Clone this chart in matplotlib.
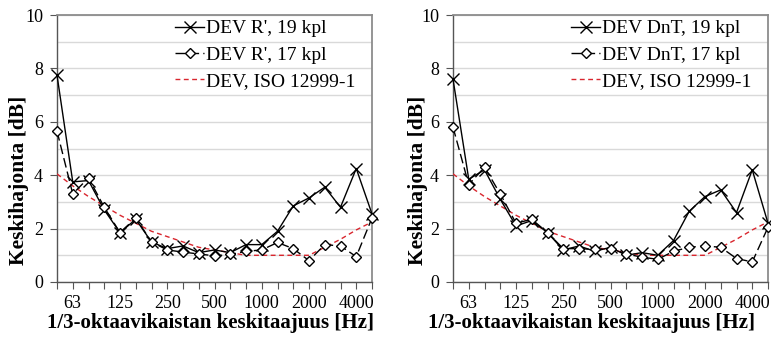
import matplotlib
matplotlib.use('Agg')
import matplotlib.pyplot as plt
import numpy as np

plt.rcParams['font.family'] = ['Liberation Serif', 'DejaVu Serif']

# 1/3-octave bands 50...5000 Hz
bands = [50, 63, 80, 100, 125, 160, 200, 250, 315, 400, 500, 630, 800,
         1000, 1250, 1600, 2000, 2500, 3150, 4000, 5000]
tick_labels = ['63', '125', '250', '500', '1000', '2000', '4000']

# left panel, R'
r_19 = [7.75, 3.75, 3.8, 2.7, 1.85, 2.35, 1.5, 1.25, 1.35, 1.1, 1.2, 1.1, 1.4,
        1.4, 1.9, 2.85, 3.15, 3.55, 2.8, 4.25, 2.55]
r_17 = [5.65, 3.3, 3.9, 2.8, 1.85, 2.4, 1.5, 1.2, 1.12, 1.05, 0.98, 1.03, 1.15,
        1.2, 1.48, 1.25, 0.8, 1.4, 1.35, 0.95, 2.4]

# right panel, DnT
d_19 = [7.6, 3.85, 4.2, 3.1, 2.1, 2.3, 1.85, 1.2, 1.35, 1.15, 1.3, 1.0, 1.1,
        1.0, 1.55, 2.65, 3.2, 3.45, 2.6, 4.2, 2.2]
d_17 = [5.8, 3.65, 4.3, 3.3, 2.2, 2.35, 1.85, 1.25, 1.25, 1.22, 1.25, 1.05, 0.93,
        0.85, 1.15, 1.3, 1.35, 1.3, 0.88, 0.75, 2.05]

# ISO 12999-1 reference
iso = [4.05, 3.6, 3.2, 2.85, 2.5, 2.2, 1.9, 1.7, 1.5, 1.3, 1.2, 1.1, 1.0,
       1.0, 1.0, 1.0, 1.0, 1.3, 1.6, 1.95, 2.25]

# data, legend names, ylabel x, xlabel x (axes fractions)
panels = [
    (r_19, r_17, "DEV R', 19 kpl", "DEV R', 17 kpl", -0.09, 0.486),
    (d_19, d_17, "DEV DnT, 19 kpl", "DEV DnT, 17 kpl", -0.078, 0.44),
]

fig = plt.figure(figsize=(7.71, 3.40), dpi=100)
ax_lefts = [57/771, 453/771]
x = np.arange(len(bands))

for (s19, s17, lab19, lab17, ylab_x, xlab_x), x0 in zip(panels, ax_lefts):
    ax = fig.add_axes([x0, 1 - 282/340, 315/771, 267/340])
    ax.plot(x, s19, color='black', lw=1.0, marker='x', ms=9, mew=1.0,
            label=lab19, clip_on=False, zorder=4)
    ax.plot(x, s17, color='black', lw=1.0, ls=(0, (7, 3)), marker='D', ms=5.5,
            mfc='white', mec='black', mew=1.0, label=lab17, clip_on=False, zorder=5)
    ax.plot(x, iso, color='#d9262e', lw=1.0, ls=(0, (3.5, 2.5)),
            label='DEV, ISO 12999-1', zorder=3)

    ax.set_xlim(0, len(bands) - 1)
    ax.set_ylim(0, 10)
    ax.set_yticks(np.arange(0, 11, 2))
    ax.set_yticks(np.arange(1, 10, 1), minor=True)
    ax.tick_params(axis='y', which='minor', length=0)
    ax.grid(axis='y', which='both', color='#d9d9d9', lw=1.0)
    ax.set_axisbelow(True)

    ax.set_xticks(x)
    lbls = [str(b) if str(b) in tick_labels else '' for b in bands]
    ax.set_xticklabels(lbls)
    ax.tick_params(axis='x', length=5, width=0.8, color='#555555', labelsize=13, pad=4)
    ax.tick_params(axis='y', length=5, width=0.8, color='#555555', labelsize=13, pad=5)

    for side in ['top', 'right']:
        ax.spines[side].set_color('#8c8c8c')
        ax.spines[side].set_linewidth(1.3)
    for side in ['left', 'bottom']:
        ax.spines[side].set_color('#555555')
        ax.spines[side].set_linewidth(1.0)

    ax.set_ylabel('Keskihajonta [dB]', fontsize=15.5, fontweight='bold')
    ax.yaxis.set_label_coords(ylab_x, 0.38)
    ax.set_xlabel('1/3-oktaavikaistan keskitaajuus [Hz]', fontsize=15,
                  fontweight='bold')
    ax.xaxis.set_label_coords(xlab_x, -0.115)

    ax.legend(loc='upper left', frameon=False, fontsize=14, handlelength=1.5,
              handletextpad=0.1, labelspacing=0.45, borderaxespad=0.0,
              borderpad=0.25, bbox_to_anchor=(0.36, 1.0))

fig.savefig('out.png', dpi=100)
